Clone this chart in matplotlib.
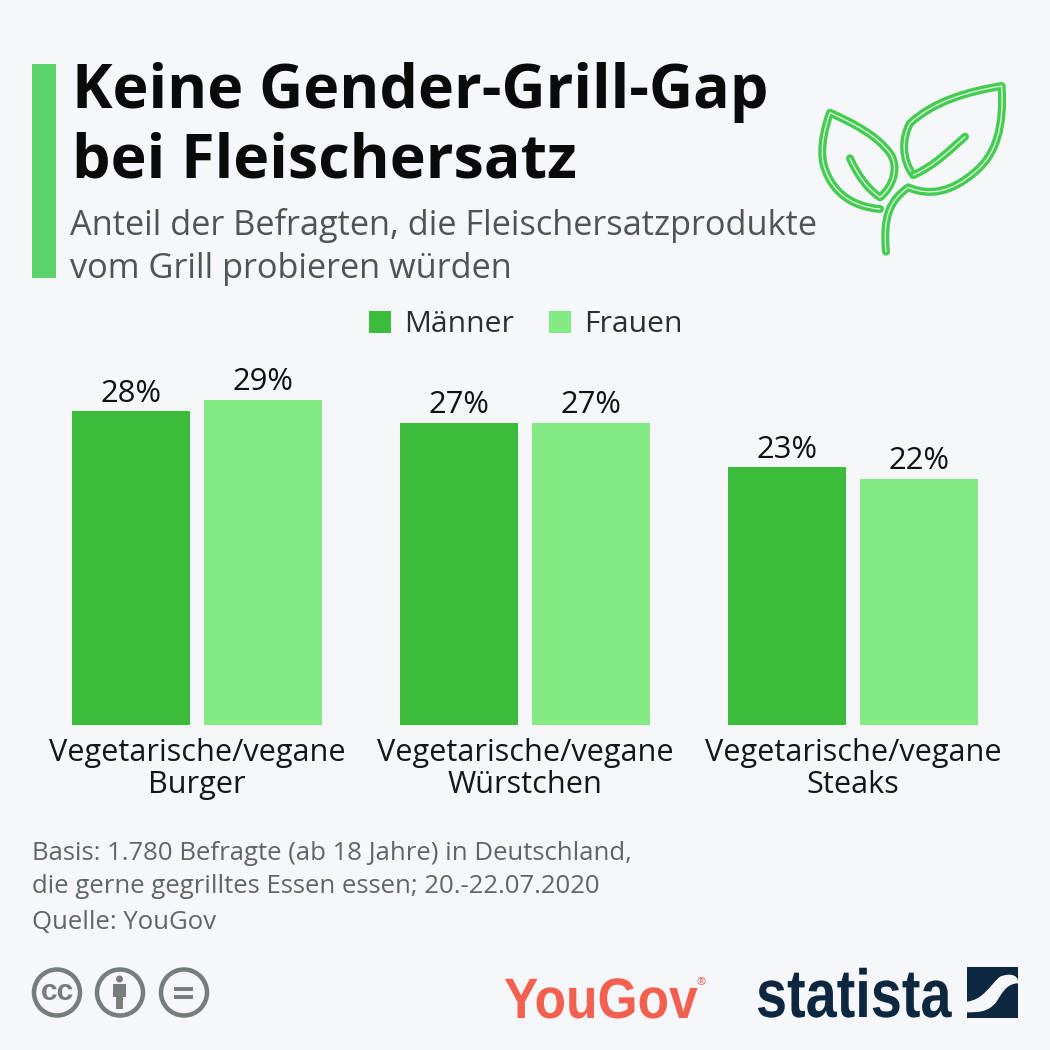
import matplotlib
matplotlib.use("Agg")
import matplotlib.pyplot as plt
from matplotlib.path import Path
from matplotlib.patches import PathPatch, Rectangle, Circle
from matplotlib.patheffects import AbstractPathEffect
from matplotlib.transforms import Affine2D

categories = ["Vegetarische/vegane\nBurger", "Vegetarische/vegane\nWürstchen", "Vegetarische/vegane\nSteaks"]
series_names = ["Männer", "Frauen"]
maenner = [28, 27, 23]
frauen = [29, 27, 22]
title_lines = ["Keine Gender-Grill-Gap", "bei Fleischersatz"]
subtitle_lines = ["Anteil der Befragten, die Fleischersatzprodukte", "vom Grill probieren würden"]
footer_lines = ["Basis: 1.780 Befragte (ab 18 Jahre) in Deutschland,", "die gerne gegrilltes Essen essen; 20.-22.07.2020", "Quelle: YouGov"]

BG = "#f5f7fa"
GREEN_D = "#3cbc3c"
GREEN_L = "#84ea84"
FONT = "Open Sans"
px = 0.72  # 1 px in pt at dpi 100

plt.rcParams["font.family"] = [FONT, "DejaVu Sans"]
fig = plt.figure(figsize=(10.5, 10.5), dpi=100, facecolor=BG)

bg = fig.add_axes([0, 0, 1, 1], zorder=0)
bg.set_xlim(0, 1050); bg.set_ylim(1050, 0); bg.axis("off")

# chart axes: x spans px 33..1017, y spans px 725..350
ax = fig.add_axes([33/1050, (1050-725)/1050, 984/1050, 375/1050], zorder=1)
ax.patch.set_alpha(0)
ax.set_xlim(-0.5, 2.5)
ax.set_ylim(0, 375/11.2)
for s in ax.spines.values():
    s.set_visible(False)
ax.yaxis.set_visible(False)
xs = range(len(categories))
off, w = 0.2005, 0.361
b1 = ax.bar([x-off for x in xs], maenner, w, color=GREEN_D, label=series_names[0])
b2 = ax.bar([x+off for x in xs], frauen, w, color=GREEN_L, label=series_names[1])
for b in (b1, b2):
    ax.bar_label(b, fmt="%d%%", padding=2, fontsize=31*px, color="#111111")
ax.set_xticks(list(xs), categories, fontsize=30.7*px, color="#161616", linespacing=1.12)
ax.tick_params(axis="x", length=0, pad=9)
leg = ax.legend(handles=[b1, b2], loc="center", bbox_to_anchor=(525.5/1050, 1-325/1050),
                bbox_transform=fig.transFigure, ncol=2, frameon=False, fontsize=30*px,
                handlelength=22/30, handleheight=22/30, handletextpad=13/30, columnspacing=35/30,
                borderpad=0, labelcolor="#2b2f30")

# header
bg.add_patch(Rectangle((32, 64), 24, 214, color="#5dd36b", lw=0))
for t, y in zip(title_lines, (108, 177)):
    bg.text(72, y, t, fontsize=61*px, fontweight="bold", color="#0a0a0a", va="baseline", ha="left")
for t, y in zip(subtitle_lines, (235, 278)):
    bg.text(70, y, t, fontsize=34.4*px, color="#4f5557", va="baseline", ha="left")

# footer
for t, y in zip(footer_lines, (860, 893, 929)):
    bg.text(32, y, t, fontsize=25.8*px, color="#5f6668", va="baseline", ha="left")

# leaf icon (zoom coords -> px)
def Z(p):
    return (800 + p[0]/3, 60 + p[1]/3)
def curve(start, *segs):
    v = [Z(start)]; c = [Path.MOVETO]
    for s in segs:
        v += [Z(q) for q in s]; c += [Path.CURVE4]*3
    return Path(v, c)
leaf = [
    curve((340,345), ((305,300),(305,235),(330,190)), ((400,125),(500,95),(605,78)),
          ((612,200),(590,285),(520,340)), ((455,395),(390,410),(325,382)),
          ((270,420),(248,470),(258,575))),
    curve((340,345), ((400,320),(450,270),(495,230))),
    curve((240,447), ((150,440),(90,390),(70,310)), ((60,260),(75,200),(90,158)),
          ((160,190),(230,225),(270,280)), ((298,320),(280,380),(240,412)),
          ((200,385),(170,340),(150,295))),
]
for p in leaf:
    bg.add_patch(PathPatch(p, fc="none", ec="#46cc52", lw=8*px, capstyle="round", joinstyle="round"))
    bg.add_patch(PathPatch(p, fc="none", ec="#eaf8ec", lw=1.2*px, capstyle="round", joinstyle="round"))

# licence icons
GR = "#767d7b"
for cx in (57, 120, 184):
    bg.add_patch(Circle((cx, 992.5), 23, fc="none", ec=GR, lw=4.5*px))
bg.text(57, 992, "cc", fontsize=30*px, fontweight="bold", color=GR, ha="center", va="center",
        family=["Liberation Sans", "DejaVu Sans"])
bg.add_patch(Circle((119.5, 979), 3.5, color=GR, lw=0))
bg.add_patch(Rectangle((113, 984), 13, 13, color=GR, lw=0))
bg.add_patch(Rectangle((116, 997), 7, 12, color=GR, lw=0))
bg.add_patch(Rectangle((174, 987), 19, 4, color=GR, lw=0))
bg.add_patch(Rectangle((174, 995), 19, 4, color=GR, lw=0))

# logos: real text, squeezed horizontally to the logo's width
class Squeeze(AbstractPathEffect):
    def __init__(self, anchor, factor):
        super().__init__()
        self.anchor, self.factor = anchor, factor
    def draw_path(self, renderer, gc, tpath, affine, rgbFace=None):
        t = affine + Affine2D().translate(-self.anchor, 0).scale(self.factor, 1).translate(self.anchor, 0)
        renderer.draw_path(gc, tpath, t, rgbFace)

def logo(text, x0, x1, baseline, size, color):
    t = bg.text(x1, baseline, text, fontsize=size*px, fontweight="bold", color=color, ha="right", va="baseline",
                family=["Liberation Sans", "DejaVu Sans"])
    width = t.get_window_extent(fig.canvas.get_renderer()).width
    t.set_path_effects([Squeeze(x1, (x1-x0)/width)])
    return t

logo("YouGov", 504, 698, 1018, 57, "#f4604f")
bg.text(701, 983, "®", fontsize=11*px, color="#f4604f", ha="center", va="center")
logo("statista", 756, 952, 1017, 68, "#0e2741")

NAVY = "#0e2741"
bg.add_patch(Rectangle((967, 967), 51, 51, color=NAVY, lw=0))
def L(p):
    return (950 + p[0]/3, 955 + p[1]/3)
band = Path([L(q) for q in [(50,140),(100,135),(120,90),(150,65),(175,55),(205,55),
                            (205,85),(175,85),(160,105),(140,140),(115,172),(85,172),(50,172),(50,140)]],
            [Path.MOVETO,Path.CURVE4,Path.CURVE4,Path.CURVE4,Path.CURVE4,Path.CURVE4,
             Path.LINETO,Path.CURVE4,Path.CURVE4,Path.CURVE4,Path.CURVE4,Path.CURVE4,Path.CURVE4,Path.CLOSEPOLY])
bg.add_patch(PathPatch(band, fc=BG, lw=0))

fig.savefig("out.png", dpi=100, facecolor=BG)
